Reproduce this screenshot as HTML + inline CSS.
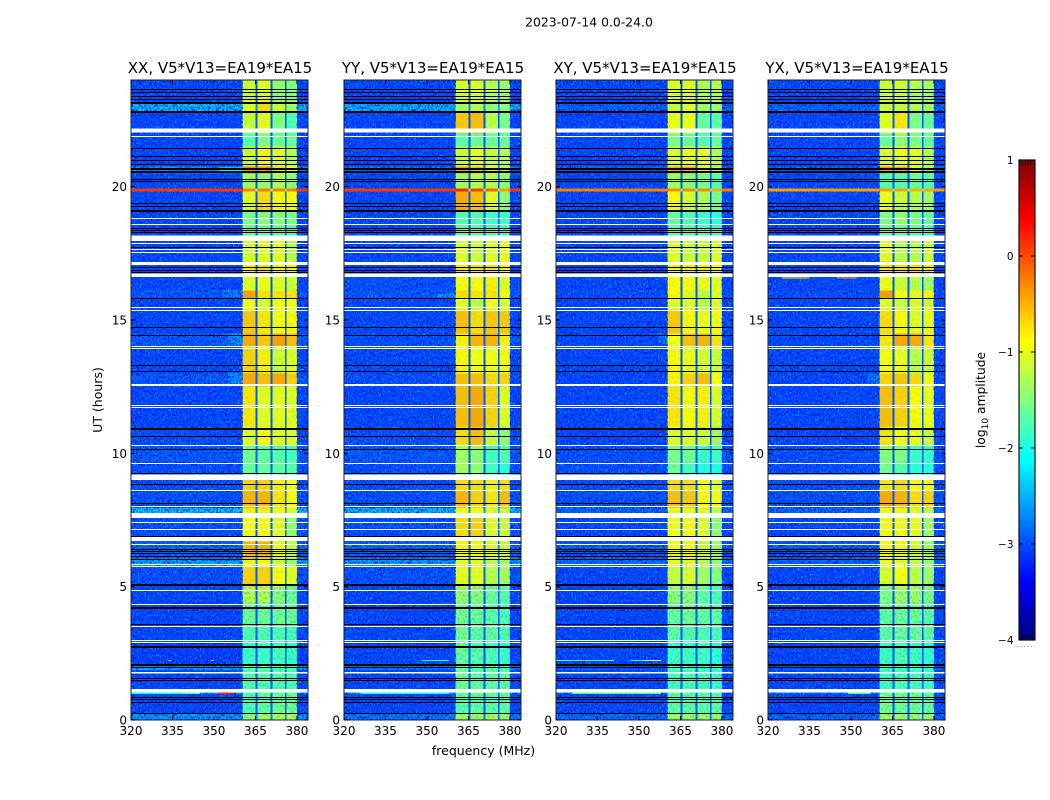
<!DOCTYPE html>
<html>
<head>
<meta charset="utf-8">
<title>2023-07-14 0.0-24.0</title>
<style>
html,body{margin:0;padding:0;background:#fff;}
svg{display:block;font-family:"DejaVu Sans","Liberation Sans",sans-serif;}
</style>
</head>
<body>
<svg id="fig" xmlns="http://www.w3.org/2000/svg" width="1050" height="800" viewBox="0 0 1050 800">
<defs>
<filter id="speckLight" x="0" y="0" width="100%" height="100%" color-interpolation-filters="sRGB">
<feTurbulence type="fractalNoise" baseFrequency="0.6 0.42" numOctaves="1" seed="4"/>
<feColorMatrix type="matrix" values="0 0 0 0 0  0 0 0 0 0.6  0 0 0 0 1  3.8 0 0 0 -1.95"/>
</filter>
<filter id="speckDark" x="0" y="0" width="100%" height="100%" color-interpolation-filters="sRGB">
<feTurbulence type="fractalNoise" baseFrequency="0.6 0.42" numOctaves="1" seed="11"/>
<feColorMatrix type="matrix" values="0 0 0 0 0  0 0 0 0 0.1  0 0 0 0 0.9  3.4 0 0 0 -1.5"/>
</filter>
<filter id="speckBand" x="0" y="0" width="100%" height="100%" color-interpolation-filters="sRGB">
<feTurbulence type="fractalNoise" baseFrequency="0.55 0.38" numOctaves="1" seed="23"/>
<feColorMatrix type="matrix" values="0 0 0 0 0.1  0 0 0 0 0.85  0 0 0 0 0.8  4 0 0 0 -1.9"/>
</filter>
<filter id="speckBandWarm" x="0" y="0" width="100%" height="100%" color-interpolation-filters="sRGB">
<feTurbulence type="fractalNoise" baseFrequency="0.55 0.38" numOctaves="1" seed="37"/>
<feColorMatrix type="matrix" values="0 0 0 0 0.75  0 0 0 0 1  0 0 0 0 0.25  4 0 0 0 -1.9"/>
</filter>
</defs>
<text x="589" y="26.5" font-size="12.4" text-anchor="middle" fill="#000">2023-07-14 0.0-24.0</text>
<text x="483.5" y="755" font-size="12.5" text-anchor="middle" fill="#000">frequency (MHz)</text>
<text x="0" y="0" transform="translate(102,400) rotate(-90)" font-size="12.5" text-anchor="middle" fill="#000">UT (hours)</text>
<text x="0" y="0" transform="translate(985,400) rotate(-90)" font-size="12.3" text-anchor="middle" fill="#000">log<tspan font-size="9" dy="3">10</tspan><tspan dy="-3"> amplitude</tspan></text>
</svg>
<script>
// ---- chart data ----
const panelTitles = ['XX, V5*V13=EA19*EA15','YY, V5*V13=EA19*EA15','XY, V5*V13=EA19*EA15','YX, V5*V13=EA19*EA15'];
const utTicks = [0,5,10,15,20];
const freqTicks = [320,335,350,365,380];
const colorTicks = [-4,-3,-2,-1,0,1];
// Frequency edges (MHz): background | band1 | gap | band2 | gap | band3 | gap | band4 | background
const bandEdges = [360.4,365.1,365.8,370.4,371.1,375.6,376.3,380];
// UT edges (hours) of the time segments
const utEdges = [0,.27,1.0,1.06,1.87,2.05,2.9,3.6,4.4,5.0,5.75,6.05,6.7,7.6,7.95,8.6,9.0,9.7,10.3,11,12.5,13,14,14.5,15.4,15.8,16.1,16.65,17.2,18,18.5,19.1,19.82,19.93,20.5,20.75,21.5,22,22.8,23.15,24];
// log10 amplitude per segment: [background, band1, band2, band3, band4]
const xxLevels = [
[-2.55,-1.4,-1.3,-1.2,-1.2],[-3,-1.8,-1.7,-1.6,-1.6],[-2.3,-1.5,-1.5,-1.5,-1.5],[-3,-1.8,-1.8,-1.8,-1.8],[-2.5,-1.7,-1.7,-1.7,-1.7],
[-3.05,-1.9,-1.9,-1.85,-1.95],[-3,-1.8,-1.8,-1.8,-1.85],[-3,-1.6,-1.6,-1.6,-1.6],[-3,-1.15,-1.2,-1.4,-1.6],[-2.95,-.65,-.65,-.85,-1],
[-2.5,-.95,-.9,-1.1,-1.4],[-2.85,-.5,-.5,-.9,-1.15],[-2.95,-.9,-.85,-1,-1.4],[-2.35,-.8,-.8,-.9,-1],[-2.95,-.5,-.5,-.75,-.85],
[-2.95,-.65,-.65,-.8,-.9],[-2.95,-1.6,-1.6,-1.65,-1.7],[-2.9,-1.55,-1.65,-1.7,-1.8],[-2.95,-1,-.85,-1,-1],[-3,-.75,-1,-1,-1],
[-2.9,-.45,-.55,-.45,-.65],[-3,-.65,-.8,-1.1,-1],[-2.9,-.45,-.6,-.4,-.55],[-3,-.6,-.75,-.9,-.85],[-3,-.9,-1,-.9,-.9],
[-2.9,-.4,-.75,-.75,-.75],[-3,-1,-.95,-1,-1.1],[-3,-.8,-.7,-.8,-.8],[-3,-1.05,-1,-1,-1.2],[-3,-1.6,-1.7,-1.7,-1.8],
[-3,-1.5,-1.45,-1.45,-1.5],[-3,-1,-.7,-.85,-.85],[.1,-.25,-.25,-.25,-.25],[-3,-1.3,-1.35,-1.25,-1.4],[-2.6,-.3,-.35,-.7,-.9],
[-3,-1.1,-.85,-1,-1.2],[-3,-1.7,-1.5,-1.6,-1.6],[-3,-1.15,-1,-1.5,-1.75],[-2.4,-1,-.7,-1.1,-1.3],[-3,-1.1,-1,-1.4,-1.5]];
const yyLevels = [
[-2.75,-1.3,-1.3,-1.2,-1.3],[-3,-1.7,-1.7,-1.7,-1.7],[-2.5,-1.3,-1.3,-1.3,-1.3],[-3,-1.6,-1.7,-1.7,-1.7],[-2.7,-1.6,-1.7,-1.7,-1.8],
[-3,-1.65,-1.75,-1.8,-1.9],[-3,-1.55,-1.7,-1.7,-1.8],[-3,-1.55,-1.6,-1.7,-1.8],[-3,-1.35,-1.4,-1.6,-1.7],[-2.95,-1,-1,-1.2,-1.3],
[-2.55,-1,-1,-1.2,-1.3],[-2.85,-.85,-.9,-1,-1.1],[-2.95,-.7,-.65,-1,-1.1],[-2.4,-.9,-.9,-1,-1.1],[-2.95,-.5,-.65,-.75,-.55],
[-2.95,-.7,-.7,-.8,-.7],[-2.95,-1.3,-1.4,-1.8,-1.9],[-2.9,-1.3,-1.4,-1.8,-1.7],[-2.95,-.7,-.55,-1.1,-1.4],[-3,-.55,-.45,-.65,-1],
[-2.95,-.55,-.55,-.7,-.65],[-3,-.85,-.9,-.9,-.9],[-2.95,-.8,-.5,-.5,-.8],[-3,-.55,-.7,-.6,-.6],[-3,-1,-1.2,-.9,-1],
[-2.9,-.7,-.75,-.75,-.9],[-2.95,-.85,-.85,-.8,-1],[-3,-.75,-.75,-.75,-.8],[-3,-1,-1.1,-1,-.95],[-3,-1.6,-1.65,-1.7,-1.8],
[-3,-1.7,-1.7,-1.8,-1.8],[-3,-.45,-.55,-1,-1.4],[.1,.2,.1,-.1,-.4],[-3,-1.3,-1.2,-1.2,-1.4],[-2.75,-.45,-.55,-1,-1.2],
[-3,-1.1,-.95,-1.1,-1.2],[-3,-1.65,-1.6,-1.6,-1.6],[-3,-.6,-.55,-1.2,-1.5],[-2.45,-1.3,-1.2,-1.4,-1.4],[-3,-1.05,-1,-1.2,-1.3]];
const xyLevels = [
[-2.8,-1.3,-1.3,-1.3,-1.3],[-3,-1.7,-1.7,-1.7,-1.7],[-2.7,-1.6,-1.6,-1.6,-1.6],[-3,-1.9,-1.85,-1.9,-1.95],[-2.9,-1.8,-1.8,-1.85,-1.9],
[-3,-1.9,-1.9,-1.9,-2],[-3,-1.7,-1.75,-1.8,-1.8],[-3,-1.65,-1.6,-1.65,-1.7],[-3,-1.4,-1.4,-1.7,-1.8],[-3,-1.15,-1.05,-1.3,-1.45],
[-2.8,-1,-1,-1.2,-1.4],[-2.9,-.9,-.85,-1.1,-1.3],[-3,-.9,-.85,-1,-1.4],[-2.85,-.9,-.9,-1,-1.2],[-2.95,-.55,-.6,-.85,-.85],
[-2.95,-.7,-.7,-.9,-1],[-2.95,-1.6,-1.8,-1.95,-2],[-2.95,-1.5,-1.55,-1.85,-1.8],[-3,-1,-1,-1.1,-1.3],[-3,-.75,-.85,-.8,-1.05],
[-3,-.8,-.65,-.55,-.9],[-3,-.85,-.95,-1.05,-1.1],[-3,-.9,-.55,-.5,-.75],[-3,-.6,-.85,-.95,-.85],[-3,-1,-1,-1.2,-1],
[-2.95,-.85,-1,-1.2,-1],[-3,-.85,-.85,-.95,-1],[-3,-.8,-.8,-.8,-.85],[-3,-1,-1.1,-1.1,-1],[-3,-1.6,-1.65,-1.7,-1.8],
[-3,-1.6,-1.7,-1.8,-1.9],[-3,-.85,-1.05,-1.25,-1.5],[-.25,-.3,-.3,-.3,-.5],[-3,-1.3,-1.4,-1.5,-1.7],[-2.85,-.5,-.45,-1,-1.2],
[-3,-1,-.9,-.95,-1.2],[-3,-1.5,-1.6,-1.7,-1.6],[-3,-.95,-.95,-1.6,-1.65],[-2.85,-1.1,-1,-1.3,-1.3],[-3,-1,-1,-1.25,-1.2]];
const yxLevels = [
[-2.85,-1.3,-1.3,-1.3,-1.3],[-3,-1.55,-1.6,-1.6,-1.65],[-2.7,-1.6,-1.6,-1.6,-1.6],[-3,-1.9,-1.85,-1.9,-1.9],[-2.9,-1.85,-1.8,-1.85,-1.9],
[-3,-1.9,-1.8,-1.9,-2],[-3,-1.7,-1.65,-1.65,-1.7],[-3,-1.7,-1.6,-1.6,-1.7],[-3,-1.5,-1.3,-1.3,-1.5],[-3,-1.05,-.9,-1.2,-1.35],
[-2.85,-.95,-.95,-1.15,-1.35],[-2.9,-.85,-.95,-1.1,-1.3],[-3,-.85,-.85,-.95,-1.3],[-2.85,-.85,-.85,-1,-1.2],[-2.95,-.45,-.5,-.7,-.65],
[-2.95,-.75,-.7,-.85,-.9],[-2.95,-1.55,-1.7,-1.9,-1.95],[-2.95,-1.45,-1.5,-1.85,-1.85],[-3,-.75,-.9,-.95,-1.1],[-3,-.55,-.65,-.85,-.95],
[-3,-.65,-.6,-.7,-.9],[-3,-.9,-.95,-1.2,-1.1],[-3,-.75,-.45,-.45,-.75],[-3,-.7,-.85,-1,-.95],[-3,-1,-1.1,-1,-1.05],
[-2.95,-.4,-.9,-.95,-.85],[-3,-.95,-1.1,-1.2,-1.3],[-3,-.7,-.7,-.7,-.75],[-3,-1,-1.2,-1.2,-1.1],[-3,-1.6,-1.65,-1.7,-1.8],
[-3,-1.5,-1.4,-1.5,-1.6],[-3,-.95,-1.1,-1.2,-1.3],[-.4,-.4,-.4,-.5,-.45],[-3,-1.7,-1.7,-1.6,-1.7],[-2.85,-.4,-.45,-.9,-1.2],
[-3,-1,-.9,-.95,-1.2],[-3,-1.6,-1.4,-1.5,-1.6],[-3,-1,-.75,-1.5,-1.6],[-2.85,-1.1,-1.1,-1.2,-1.3],[-3,-1.1,-1.1,-1.2,-1.3]];
const panelLevels = [xxLevels,yyLevels,xyLevels,yxLevels];
// Localised features: [panel, utStart, utEnd, freqStart, freqEnd, level]
const patches = [
[0,15.85,16.15,353,360.4,-2.55],[0,14.05,14.5,355,360.4,-2.4],[0,12.6,13.1,355,360.4,-2.45],[0,20.55,20.72,352,360.4,-2.1],
[0,.98,1.03,320,340,-2.0],[0,.98,1.03,339,345,-1.6],[0,.98,1.03,351.5,357,.2],[0,2.21,2.25,333.5,334.5,-.6],[0,2.21,2.25,349,350,-.6],
[1,15.85,16.0,354,360.4,-2.3],[1,2.21,2.25,348,358,-1.9],[1,.98,1.03,326,358,-2.0],
[2,14.1,14.4,357,360.4,-2.55],[2,2.21,2.25,320,329,-1.7],[2,2.21,2.25,329,331,-.4],[2,2.21,2.25,331,341,-1.7],[2,2.21,2.25,347,352,-1.9],[2,2.21,2.25,352,358,-1.0],[2,.98,1.03,326,358,-1.7],
[3,12.6,13,356,360.4,-2.55],[3,16.56,16.6,325,335,-.8],[3,16.56,16.6,345,352,-.5],[3,.98,1.03,349,357,-1.7]];
// Flagged scans (UT hours)
const blackScans = [.27,.66,.78,.86,1.5,1.59,1.99,3.59,6.03,6.16,6.25,6.35,6.42,6.91,8.15,8.85,9.26,10.15,10.65,13.07,13.32,14.44,14.72,15.81,16.81,16.87,16.97,17.75,18.3,18.37,18.45,19.28,19.4,20.2,20.3,20.86,21,21.15,21.46,23.29,23.41,23.54,23.66];
const thickBlackScans = [2.06,2.74,4.19,5.06,10.92,19.1,20.56,20.66,22.81,23.15];
const whiteScans = [2.91,3.01,3.51,4.36,4.86,5.76,5.86,6.59,7.15,7.41,8.02,8.62,9.65,10.3,11.73,11.81,13.95,14.02,15.37,15.47,17.55,17.66,17.9,18.6,18.81,21.91];
const whiteBands = [[1.04,1.16],[1.74,1.8],[6.71,6.87],[7.57,7.77],[9,9.21],[12.52,12.6],[16.62,16.75],[17.06,17.18],[17.96,18.16],[22.03,22.19]];
const noisyBandUt = 5;

// ---- axes ----
const NS = 'http://www.w3.org/2000/svg';
const fig = document.getElementById('fig');
const panelX = [131,344,556,768];
const panelW = 177, axTop = 80, axBottom = 720;
const freqMin = 320, freqMax = 384, utMax = 24;
function yOf(ut){ return axBottom - ut / utMax * (axBottom - axTop); }
function xOf(p, f){ return panelX[p] + (f - freqMin) / (freqMax - freqMin) * panelW; }
function jet(v){
  const f = (v + 4) / 5;
  const c = t => Math.round(255 * Math.max(0, Math.min(1, t)));
  return 'rgb(' + c(Math.min(4*f-1.5, -4*f+4.5)) + ',' + c(Math.min(4*f-.5, -4*f+3.5)) + ',' + c(Math.min(4*f+.5, -4*f+2.5)) + ')';
}
function mk(tag, attrs, parent){
  const el = document.createElementNS(NS, tag);
  for (const k in attrs) el.setAttribute(k, attrs[k]);
  (parent || fig).appendChild(el);
  return el;
}

panelLevels.forEach(function(levels, p){
  const g = mk('g', {});
  
  

  const x0 = panelX[p], x1 = x0 + panelW;
  // heat cells: background and the four bands
  levels.forEach(function(row, s){
    const yA = yOf(utEdges[s + 1]), yB = yOf(utEdges[s]);
    const cols = [
      [freqMin, bandEdges[0], row[0]],
      [bandEdges[0], bandEdges[1], row[1]],
      [bandEdges[1], bandEdges[2], row[1]],
      [bandEdges[2], bandEdges[3], row[2]],
      [bandEdges[3], bandEdges[4], row[2]],
      [bandEdges[4], bandEdges[5], row[3]],
      [bandEdges[5], bandEdges[6], row[3]],
      [bandEdges[6], bandEdges[7], row[4]],
      [bandEdges[7], freqMax, row[0]]
    ];
    cols.forEach(function(c){
      const cell = mk('rect', {x: xOf(p, c[0]), y: yA, width: xOf(p, c[1]) - xOf(p, c[0]), height: yB - yA, fill: jet(c[2]), 'shape-rendering': 'crispEdges'}, g);
      
      
    });
  });
  patches.filter(q => q[0] === p && q[5] < -2.2).forEach(function(q){
    const patch = mk('rect', {x: xOf(p, q[3]), y: yOf(q[2]), width: xOf(p, q[4]) - xOf(p, q[3]), height: yOf(q[1]) - yOf(q[2]), fill: jet(q[5]), opacity: .6, 'shape-rendering': 'crispEdges'}, g);
    
    
  });
  // texture overlays
  [[freqMin, bandEdges[0]], [bandEdges[7], freqMax]].forEach(function(r){
    ['speckLight', 'speckDark'].forEach(function(fid){
      const t = mk('rect', {x: xOf(p, r[0]), y: axTop, width: xOf(p, r[1]) - xOf(p, r[0]), height: axBottom - axTop, fill: '#000', filter: 'url(#' + fid + ')'}, g);
      
      
    });
  });
  const bt = mk('rect', {x: xOf(p, bandEdges[0]), y: axTop, width: xOf(p, bandEdges[7]) - xOf(p, bandEdges[0]), height: axBottom - axTop, fill: '#000', filter: 'url(#speckBand)', opacity: .2}, g);
  
  
  ['speckBandWarm', 'speckBand'].forEach(function(fid){
    const bl = mk('rect', {x: xOf(p, bandEdges[0]), y: yOf(noisyBandUt), width: xOf(p, bandEdges[7]) - xOf(p, bandEdges[0]), height: axBottom - yOf(noisyBandUt), fill: '#000', filter: 'url(#' + fid + ')', opacity: .55}, g);
    
    
  });

  // narrow gaps between bands, drawn per segment on top of the texture
  levels.forEach(function(row, s){
    const yA = yOf(utEdges[s + 1]), yB = yOf(utEdges[s]);
    [[bandEdges[1], bandEdges[2]], [bandEdges[3], bandEdges[4]], [bandEdges[5], bandEdges[6]]].forEach(function(c){
      const gap = mk('rect', {x: xOf(p, c[0]), y: yA, width: xOf(p, c[1]) - xOf(p, c[0]), height: yB - yA, fill: jet(Math.max(row[0], -3) * .5 - 1.45), 'shape-rendering': 'crispEdges'}, g);
      
      
    });
    // strong interference rows sit above the noise
    if (row[0] > -1) {
      [[freqMin, bandEdges[0]], [bandEdges[7], freqMax]].forEach(function(c){
        const hot = mk('rect', {x: xOf(p, c[0]), y: yA, width: xOf(p, c[1]) - xOf(p, c[0]), height: yB - yA, fill: jet(row[0]), 'shape-rendering': 'crispEdges'}, g);
        
        
      });
    }
  });
  patches.filter(q => q[0] === p && q[5] >= -2.2).forEach(function(q){
    const patch = mk('rect', {x: xOf(p, q[3]), y: yOf(q[2]), width: xOf(p, q[4]) - xOf(p, q[3]), height: yOf(q[1]) - yOf(q[2]), fill: jet(q[5]), 'shape-rendering': 'crispEdges'}, g);
    
    
  });

  // flagged scans
  blackScans.forEach(function(u){
    const f = mk('rect', {x: x0, y: Math.round(yOf(u)), width: panelW, height: 1, fill: '#000', 'shape-rendering': 'crispEdges'}, g);
    
    
  });
  thickBlackScans.forEach(function(u){
    const f = mk('rect', {x: x0, y: Math.round(yOf(u)) - 1, width: panelW, height: 2, fill: '#000', 'shape-rendering': 'crispEdges'}, g);
    
    
  });
  whiteScans.forEach(function(u){
    const f = mk('rect', {x: x0, y: Math.round(yOf(u)), width: panelW, height: 1, fill: '#fff', 'shape-rendering': 'crispEdges'}, g);
    
    
  });
  whiteBands.forEach(function(b){
    const f = mk('rect', {x: x0, y: yOf(b[1]), width: panelW, height: yOf(b[0]) - yOf(b[1]), fill: '#fff', 'shape-rendering': 'crispEdges'}, g);
    
    
  });

  // frame
  const frame = mk('rect', {x: x0, y: axTop, width: panelW, height: axBottom - axTop, fill: 'none', stroke: '#222', 'stroke-width': 1}, g);
  
  

  // ticks & labels
  freqTicks.forEach(function(f){
    const x = xOf(p, f);
    const t1 = mk('line', {x1: x, x2: x, y1: axBottom, y2: axBottom - 4, stroke: '#000', 'stroke-width': 1}, g);
    
    
    const t2 = mk('line', {x1: x, x2: x, y1: axTop, y2: axTop + 4, stroke: '#000', 'stroke-width': 1}, g);
    
    
    const lab = mk('text', {x: x, y: 735, 'font-size': 12, 'text-anchor': 'middle', fill: '#000'}, g);
    
    
    lab.textContent = f;
  });
  utTicks.forEach(function(u){
    const y = yOf(u);
    const t1 = mk('line', {x1: x0, x2: x0 + 4, y1: y, y2: y, stroke: '#000', 'stroke-width': 1}, g);
    
    
    const t2 = mk('line', {x1: x1, x2: x1 - 4, y1: y, y2: y, stroke: '#000', 'stroke-width': 1}, g);
    
    
    const lab = mk('text', {x: x0 - 4, y: y + 4.5, 'font-size': 12, 'text-anchor': 'end', fill: '#000'}, g);
    
    
    lab.textContent = u;
  });
  const title = mk('text', {x: x0 + panelW / 2 + .5, y: 73, 'font-size': 15, 'text-anchor': 'middle', fill: '#000'}, g);
  
  
  title.textContent = panelTitles[p];
});

// ---- colorbar ----
const cbX = 1019, cbW = 16, cbTop = 160, cbBottom = 640, cbMin = -4, cbMax = 1, cbSteps = 240;
function cbY(v){ return cbBottom - (v - cbMin) / (cbMax - cbMin) * (cbBottom - cbTop); }
const cb = mk('g', {});


for (let i = 0; i < cbSteps; i++){
  const v0 = cbMin + (cbMax - cbMin) * i / cbSteps, v1 = cbMin + (cbMax - cbMin) * (i + 1) / cbSteps;
  const s = mk('rect', {x: cbX, y: cbY(v1), width: cbW, height: cbY(v0) - cbY(v1) + .5, fill: jet((v0 + v1) / 2), 'shape-rendering': 'crispEdges'}, cb);
  
  
}
const cbFrame = mk('rect', {x: cbX, y: cbTop, width: cbW, height: cbBottom - cbTop, fill: 'none', stroke: '#111', 'stroke-width': 1.2}, cb);


colorTicks.forEach(function(v){
  const y = cbY(v);
  const a = mk('line', {x1: cbX, x2: cbX + 4, y1: y, y2: y, stroke: '#000'}, cb);
  
  
  const b = mk('line', {x1: cbX + cbW, x2: cbX + cbW - 4, y1: y, y2: y, stroke: '#000'}, cb);
  
  
  const lab = mk('text', {x: 1013.5, y: y + 4, 'font-size': 10.5, 'text-anchor': 'end', fill: '#000'}, cb);
  
  
  lab.textContent = String(v).replace('-', '\u2212');
});
[3, 6, 9, 12].forEach(function(dx){
  const top = mk('line', {x1: cbX + dx + .5, x2: cbX + dx + .5, y1: cbTop, y2: cbTop + 5, stroke: '#000'}, cb);
  
  
  const bottom = mk('line', {x1: cbX + dx + .5, x2: cbX + dx + .5, y1: cbBottom, y2: cbBottom - 5, stroke: '#000'}, cb);
  
  
});
const dots = mk('line', {x1: 1017, x2: 1035, y1: 646.5, y2: 646.5, stroke: '#999', 'stroke-width': 1, 'stroke-dasharray': '1 2.5'}, cb);


</script>
</body>
</html>
